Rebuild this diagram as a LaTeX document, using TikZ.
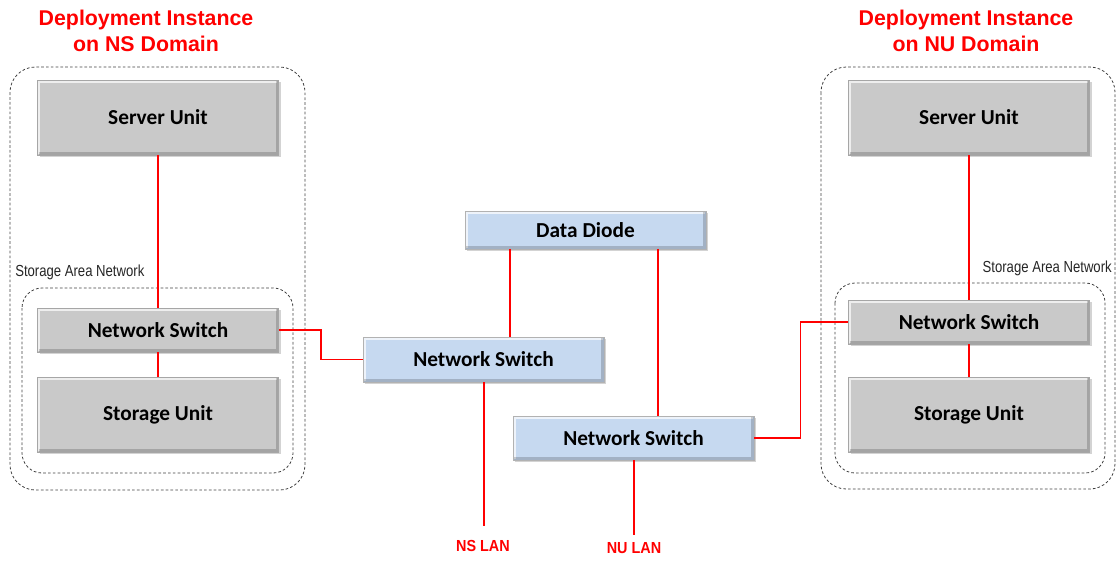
\documentclass[tikz,border=0pt]{standalone}
\usepackage{fontspec}
\setmainfont{Carlito}
\newfontfamily\arialfont{Liberation Sans}
\usetikzlibrary{arrows.meta,shapes,calc,fit,positioning,shadows}

\definecolor{unitgray}{RGB}{201,201,201}
\definecolor{diodeblue}{RGB}{198,217,240}
\definecolor{lanred}{RGB}{255,0,0}

\tikzset{
    bevel/.style={path picture={
        \draw[white, opacity=0.7, line width=2pt]
            ([xshift=1pt,yshift=1pt]path picture bounding box.south west) |- ([xshift=-1pt,yshift=-1pt]path picture bounding box.north east);
        \draw[black, opacity=0.18, line width=2pt]
            ([xshift=1pt,yshift=1pt]path picture bounding box.south west) -| ([xshift=-1pt,yshift=-1pt]path picture bounding box.north east);
    }},
    unitbox/.style={rectangle, fill=unitgray, draw=gray!70, line width=0.6pt, bevel,
        minimum width=180.75pt, font=\fontsize{16}{18}\selectfont\bfseries,
        drop shadow={shadow xshift=1.5pt, shadow yshift=-1.5pt, opacity=0.35}},
    bluebox/.style={unitbox, fill=diodeblue, draw=gray!60},
    domainbox/.style={draw=black!75, line width=0.6pt, dash pattern=on 2pt off 1.6pt, rounded corners=19pt},
    sanbox/.style={domainbox, rounded corners=15pt},
    title/.style={text=lanred, align=center, font=\arialfont\fontsize{16}{19.5}\selectfont\bfseries},
    sanlabel/.style={font=\arialfont\fontsize{12}{14}\selectfont, text=black!85, inner sep=0pt},
    lanlabel/.style={text=lanred, font=\arialfont\fontsize{12}{14}\selectfont\bfseries},
    thinlink/.style={draw=lanred, line width=1pt},
    lanlink/.style={draw=lanred, line width=1.5pt}
}

\begin{document}
\begin{tikzpicture}[x=0.75pt, y=-0.75pt]

    \useasboundingbox (0,0) rectangle (1120,561);

    % domain frames
    \draw[domainbox] (10,67) rectangle (305,490);
    \draw[sanbox] (22,288) rectangle (293,473);
    \draw[domainbox] (821,67) rectangle (1115,489);
    \draw[sanbox] (835,283) rectangle (1105,473);

    \node[title] (nstitle) at (146,31) {Deployment Instance\\on NS Domain};
    \node[title] (nutitle) at (966,31) {Deployment Instance\\on NU Domain};

    \node[sanlabel, anchor=west] (nssan) at (15,272) {\scalebox{0.82}[1]{Storage Area Network}};
    \node[sanlabel, anchor=east] (nusan) at (1112,268) {\scalebox{0.82}[1]{Storage Area Network}};

    % NS side
    \node[unitbox, minimum height=56.25pt] (nssrv) at (158,117.5) {Server Unit};
    \node[unitbox, minimum height=33pt] (nssw) at (158,330) {Network Switch};
    \node[unitbox, minimum height=56.25pt] (nssto) at (158,414.5) {Storage Unit};

    % NU side
    \node[unitbox, minimum height=56.25pt] (nusrv) at (969,117.5) {Server Unit};
    \node[unitbox, minimum height=33pt] (nusw) at (969,322) {Network Switch};
    \node[unitbox, minimum height=56.25pt] (nusto) at (969,414.5) {Storage Unit};

    % middle
    \node[bluebox, minimum height=28.5pt] (diode) at (585.5,230) {Data Diode};
    \node[bluebox, minimum height=33.75pt] (nsnet) at (483.5,359.5) {Network Switch};
    \node[bluebox, minimum height=33pt] (nunet) at (633.5,438) {Network Switch};

    \coordinate (nsend) at (483.5,526);
    \coordinate (nuend) at (634,535);
    \node[lanlabel] (nslan) at (483,546) {\scalebox{0.9}[1]{NS LAN}};
    \node[lanlabel] (nulan) at (634,548) {\scalebox{0.9}[1]{NU LAN}};

    % links
    \draw[thinlink] (nssrv.south) -- (nssw.north);
    \draw[thinlink] (nssw.south) -- (nssto.north);
    \draw[thinlink] (nusrv.south) -- (nusw.north);
    \draw[thinlink] (nusw.south) -- (nusto.north);

    \draw[thinlink, line width=1.1pt] (nssw.east) -- ++(42,0) |- (nsnet.west);
    \draw[thinlink, line width=1.1pt] (nunet.east) -- ++(46,0) |- (nusw.west);

    \draw[lanlink] (diode.south -| 510,0) -- (nsnet.north -| 510,0);
    \draw[lanlink] (diode.south -| 658,0) -- (nunet.north -| 658,0);
    \draw[lanlink] (nsnet.south) -- (nsend);
    \draw[lanlink] (nunet.south -| nuend) -- (nuend);

\end{tikzpicture}
\end{document}
